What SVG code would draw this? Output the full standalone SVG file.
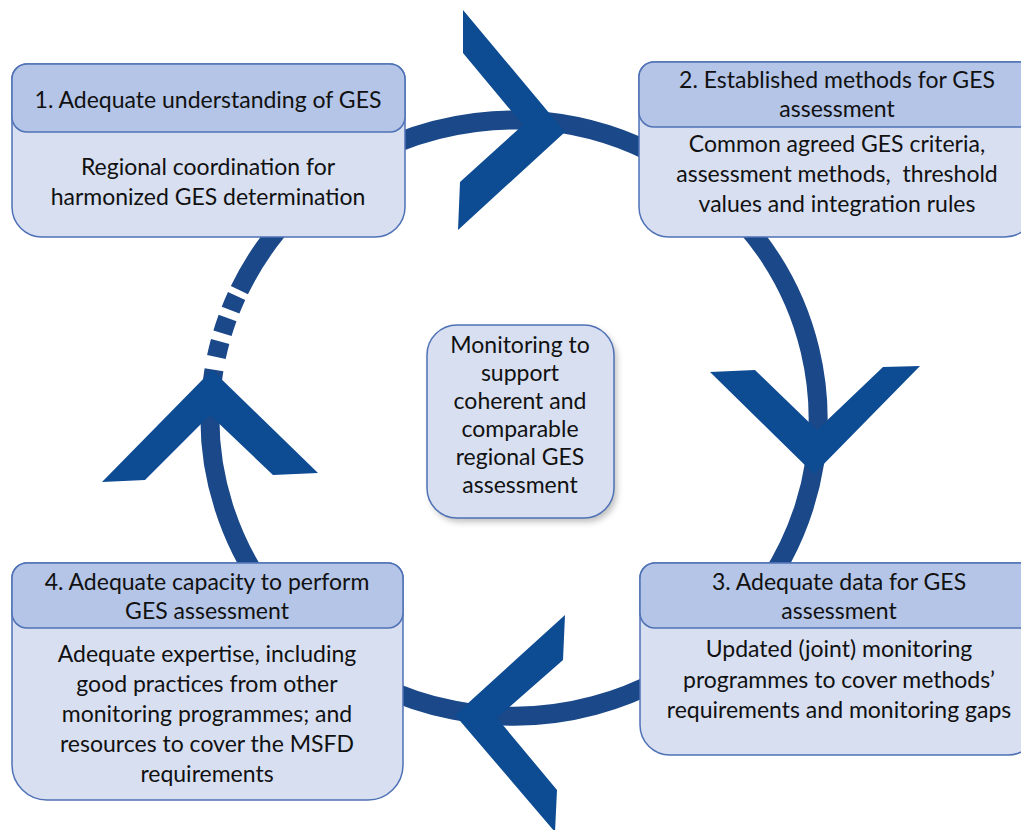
<svg xmlns="http://www.w3.org/2000/svg" width="1021" height="830" viewBox="0 0 1021 830">
<defs>
<style>
.ring{fill:none;stroke:#1a4888;stroke-width:19}
.dash{fill:none;stroke:#1a4888;stroke-width:19;stroke-dasharray:16 8.5}
.head{fill:#0d4b92}
.body{fill:#d7dff1;stroke:#4f71b5;stroke-width:1.5}
.hdr{fill:#b4c5e7;stroke:#4f71b5;stroke-width:1.5}
text{font-family:Lato,"Open Sans","Liberation Sans",sans-serif;font-size:23px;fill:#111;text-anchor:middle}
</style>
<filter id="sh" x="-20%" y="-20%" width="140%" height="140%"><feGaussianBlur stdDeviation="3"/></filter>
</defs>
<rect width="1021" height="830" fill="#fff"/>
<g id="connectors">
<path class="ring" d="M239.4 290.2 A304 298 0 1 1 214.0 369.8"/>
<path class="dash" d="M216.4 357.0 A304 298 0 0 1 236.6 296.0"/>
<polygon class="head" points="463,10 565,132 458,230 460,182 523,125 463,53"/>
<polygon class="head" points="710,372 755,370 817,430 883,367 920,366 814,474"/>
<polygon class="head" points="455,715 565,615 563,660 497,718 557,790 555,832"/>
<polygon class="head" points="212,370 318,473 273,475 210,415 145,480 102,482"/>
</g>
<g id="node1">
<path class="body" d="M12,79 a15,15 0 0 1 15,-15 H390 a15,15 0 0 1 15,15 V207 a30,30 0 0 1 -30,30 H42 a30,30 0 0 1 -30,-30 Z"/>
<rect class="hdr" x="12" y="64" width="393" height="68" rx="15"/>
<text x="208" y="108">1. Adequate understanding of GES</text>
<text x="208" y="175">Regional coordination for</text>
<text x="208" y="205">harmonized GES determination</text>
</g>
<g id="node2">
<path class="body" d="M639,77 a15,15 0 0 1 15,-15 H1020 a15,15 0 0 1 15,15 V207 a30,30 0 0 1 -30,30 H669 a30,30 0 0 1 -30,-30 Z"/>
<rect class="hdr" x="639" y="62" width="396" height="65" rx="15"/>
<text x="837" y="88">2. Established methods for GES</text>
<text x="837" y="117">assessment</text>
<text x="837" y="152">Common agreed GES criteria,</text>
<text x="837" y="182" xml:space="preserve">assessment methods,  threshold</text>
<text x="837" y="212">values and integration rules</text>
</g>
<g id="node3">
<path class="body" d="M640,578 a15,15 0 0 1 15,-15 H1023 a15,15 0 0 1 15,15 V725 a30,30 0 0 1 -30,30 H670 a30,30 0 0 1 -30,-30 Z"/>
<rect class="hdr" x="640" y="563" width="398" height="65" rx="15"/>
<text x="839" y="590">3. Adequate data for GES</text>
<text x="839" y="619">assessment</text>
<text x="839" y="657">Updated (joint) monitoring</text>
<text x="839" y="688">programmes to cover methods’</text>
<text x="839" y="718">requirements and monitoring gaps</text>
</g>
<g id="node4">
<path class="body" d="M12,578 a15,15 0 0 1 15,-15 H388 a15,15 0 0 1 15,15 V765 a35,35 0 0 1 -35,35 H47 a35,35 0 0 1 -35,-35 Z"/>
<rect class="hdr" x="12" y="563" width="391" height="65" rx="15"/>
<text x="207" y="590">4. Adequate capacity to perform</text>
<text x="207" y="619">GES assessment</text>
<text x="207" y="662">Adequate expertise, including</text>
<text x="207" y="692">good practices from other</text>
<text x="207" y="722">monitoring programmes; and</text>
<text x="207" y="752">resources to cover the MSFD</text>
<text x="207" y="782">requirements</text>
</g>
<g id="center">
<rect x="430" y="329" width="187" height="193" rx="30" fill="#7f7f7f" opacity="0.5" filter="url(#sh)"/>
<rect class="body" x="427" y="325" width="187" height="193" rx="30"/>
<text x="520" y="353">Monitoring to</text>
<text x="520" y="381">support</text>
<text x="520" y="409">coherent and</text>
<text x="520" y="437">comparable</text>
<text x="520" y="465">regional GES</text>
<text x="520" y="493">assessment</text>
</g>
</svg>
